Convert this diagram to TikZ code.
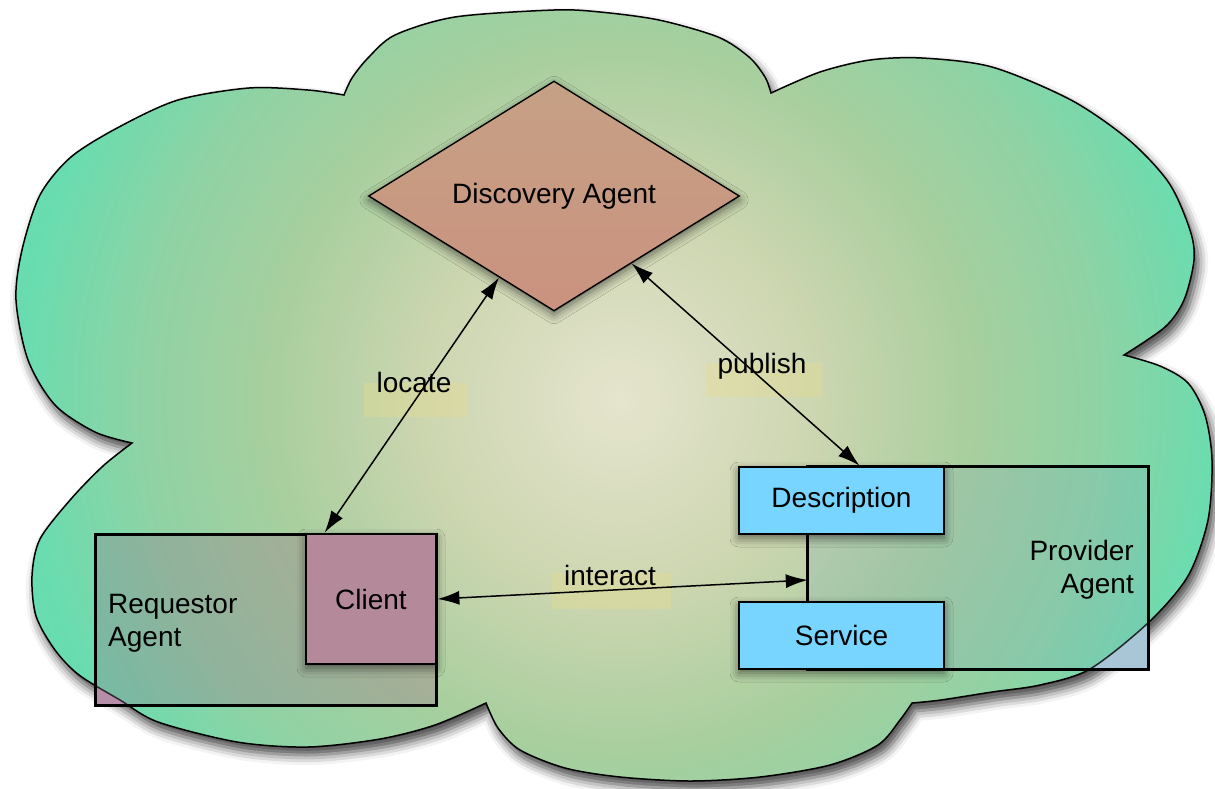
\documentclass[tikz,border=0pt]{standalone}
\usepackage{fontspec}
\setmainfont{Liberation Sans}
\usetikzlibrary{shapes.geometric, arrows.meta, shadows.blur, calc}

\definecolor{reqpink}{HTML}{B58EA8}
\definecolor{provblue}{HTML}{A8C6D6}
\definecolor{clientpink}{HTML}{B48A9B}
\definecolor{skyblue}{HTML}{77D5FF}
\definecolor{disctop}{HTML}{C6A185}
\definecolor{discbot}{HTML}{CA927F}
\definecolor{lblyellow}{HTML}{E8DC8C}

\pgfdeclareradialshading{cloudsh}{\pgfpoint{0bp}{0bp}}{%
rgb(0bp)=(0.885,0.880,0.774);
rgb(7.8bp)=(0.765,0.811,0.635);
rgb(13.7bp)=(0.603,0.779,0.557);
rgb(18.75bp)=(0.483,0.797,0.585);
rgb(23.4bp)=(0.312,0.843,0.635);
rgb(25bp)=(0.29,0.85,0.64);
rgb(50bp)=(0.29,0.85,0.64)}

\begin{document}
\begin{tikzpicture}[x=1pt,y=-1pt,
  txt/.style={font=\fontsize{28}{33}\selectfont, inner sep=0pt},
  boxline/.style={line width=2.8pt},
  softshadow/.style={blur shadow={shadow xshift=0pt, shadow yshift=-4pt, shadow blur radius=9pt, shadow opacity=55}},
  inbox/.style={draw, boxline, inner sep=0pt, font=\fontsize{28}{33}\selectfont, softshadow},
  arr/.style={line width=1.5pt, black, <->, >={Latex[length=22pt, width=14pt]}},
  lblbg/.style={fill=lblyellow, fill opacity=0.35, inner sep=0pt},
  cloudshape/.style={insert path={
    plot[smooth] coordinates {(132,443) (95,432) (55,405) (28,360) (16,300) (22,250) (40,195) (71,157) (119,127) (178,100) (249,88) (308,90) (344,95)}
    -- plot[smooth] coordinates {(344,95) (352,78) (368,58) (395,35) (455,17) (554,10) (600,12) (659,20) (718,37) (749,57) (765,77) (771,93)}
    -- plot[smooth] coordinates {(771,93) (820,72) (870,60) (922,58) (992,67) (1071,100) (1129,140) (1169,183) (1190,230) (1194,260) (1184,300) (1165,327) (1124,355)}
    -- plot[smooth] coordinates {(1124,355) (1160,366) (1188,383) (1205,415) (1212,460) (1208,520) (1188,576) (1149,622) (1090,669) (1040,685) (992,692) (941,700) (912,703)}
    -- plot[smooth] coordinates {(912,703) (900,720) (878,745) (830,765) (760,777) (690,781) (620,777) (565,768) (520,750) (498,728) (486,703)}
    -- plot[smooth] coordinates {(486,703) (435,725) (380,739) (308,747) (237,742) (158,722) (120,700) (79,675) (55,650) (36,616) (32,576) (40,539) (71,499) (103,466) (132,443)}
    -- cycle}}
]
\useasboundingbox (0,0) rectangle (1215,788);

% cloud shadow and white base
\fill[white, blur shadow={shadow xshift=4pt, shadow yshift=-8pt, shadow blur radius=10pt, shadow opacity=75}, cloudshape];

% agent boxes lying under the cloud
\node[fill=reqpink, minimum width=340pt, minimum height=170pt, inner sep=0pt] (req) at (266,620) {};
\node[fill=provblue, minimum width=340pt, minimum height=202pt, inner sep=0pt] (prov) at (978,568) {};

% translucent cloud
\begin{scope}
  \clip[cloudshape];
  \shade[shading=cloudsh, opacity=0.85] (620,400) circle (640);
\end{scope}
\draw[line width=1.5pt, cloudshape];

% tint of the agent boxes seen through the cloud
\fill[reqpink, fill opacity=0.28] (req.north west) rectangle (req.south east);
\fill[provblue, fill opacity=0.2] (prov.north west) rectangle (prov.south east);

% agent box borders and labels
\draw[boxline] (req.north west) rectangle (req.south east);
\draw[boxline] (prov.north west) rectangle (prov.south east);
\node[txt, anchor=base west, align=left] (reqlabel) at (108,646) {Requestor\\Agent};
\node[txt, anchor=base east, align=right] (provlabel) at (1134,593) {Provider\\Agent};

% inner boxes
\node[inbox, fill=clientpink, minimum width=130pt, minimum height=130pt] (client) at (371,599) {Client};
\node[inbox, fill=skyblue, minimum width=205pt, minimum height=67pt] (desc) at (841.5,500.5) {Description};
\node[inbox, fill=skyblue, minimum width=205pt, minimum height=67pt] (serv) at (841.5,635.5) {Service};

% discovery agent
\node[diamond, draw, line width=1.4pt, minimum width=371pt, minimum height=202pt, inner sep=0pt,
      top color=disctop, bottom color=discbot, softshadow, font=\fontsize{28}{33}\selectfont] (disc) at (554,196) {Discovery Agent};

% label backgrounds
\node[lblbg, minimum width=104pt, minimum height=34pt] (locbg) at (416,400) {};
\node[lblbg, minimum width=116pt, minimum height=34pt] (pubbg) at (764,380) {};
\node[lblbg, minimum width=119pt, minimum height=36pt] (intbg) at (611.5,591) {};

% connectors
\draw[arr] ([xshift=20pt]client.north west) -- (disc.-124);
\draw[arr] (disc.-41) -- ([xshift=18pt]desc.north);
\draw[arr] (client.east) -- ([yshift=-12pt]prov.west);

% connector labels
\node[txt, anchor=base] (loclabel) at (414,392) {locate};
\node[txt, anchor=base] (publabel) at (762,373) {publish};
\node[txt, anchor=base] (intlabel) at (610,585) {interact};
\end{tikzpicture}
\end{document}
